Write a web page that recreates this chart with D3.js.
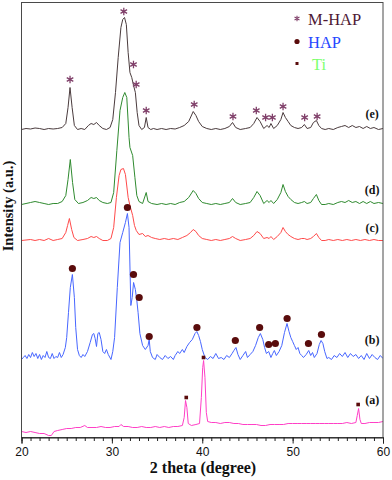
<!DOCTYPE html>
<html>
<head>
<meta charset="utf-8">
<script src="https://cdn.jsdelivr.net/npm/d3@7"></script>
<style>
  html, body { margin: 0; padding: 0; background: #fff; }
  svg { display: block; }
  .serif { font-family: "Liberation Serif", "Times New Roman", Times, serif; }
  .sans { font-family: "Liberation Sans", Arial, Helvetica, sans-serif; }
</style>
</head>
<body>
<div id="chart"></div>
<script>
// XRD patterns, [2theta, intensity (a.u., stacked)]
const traceE = [
  [20.0, 308], [20.5, 309], [21.0, 308.5], [21.5, 309.5], [22.0, 309], [22.5, 308], [23.0, 309], [23.5, 308.5],
  [24.0, 309], [24.5, 310], [24.9, 314], [25.15, 330], [25.37, 350], [25.6, 330], [25.85, 312], [26.2, 308],
  [26.6, 309], [27.0, 308], [27.4, 312], [27.7, 314], [28.0, 313], [28.3, 315], [28.6, 312], [29.0, 309],
  [29.4, 308], [29.8, 310], [30.1, 318], [30.4, 345], [30.7, 380], [31.0, 410], [31.2, 418], [31.4, 420],
  [31.6, 413], [31.8, 385], [32.0, 365], [32.2, 360], [32.4, 352], [32.6, 345], [32.8, 325], [33.0, 312],
  [33.3, 308], [33.6, 310], [33.8, 320], [34.0, 310], [34.3, 308], [34.6, 309], [35.0, 308], [35.5, 309],
  [36.0, 308], [36.5, 309], [37.0, 308.5], [37.5, 310], [38.0, 312], [38.5, 316], [39.0, 326], [39.3, 322],
  [39.6, 316], [40.0, 311], [40.5, 309], [41.0, 308], [41.5, 309], [42.0, 308], [42.5, 309], [43.0, 311],
  [43.35, 315], [43.7, 310], [44.2, 308], [44.8, 309], [45.3, 310], [45.7, 314], [46.06, 320], [46.4, 316],
  [46.8, 309], [47.17, 312], [47.4, 310], [47.6, 314], [47.9, 309], [48.3, 312], [48.7, 318], [48.94, 325],
  [49.2, 320], [49.5, 316], [49.8, 312], [50.2, 310], [50.6, 309], [51.0, 310], [51.3, 313], [51.6, 309],
  [52.0, 310], [52.3, 315], [52.63, 317], [52.9, 312], [53.2, 309], [53.6, 308], [54.0, 309], [54.5, 308],
  [55.0, 310], [55.4, 311], [55.8, 312], [56.2, 310], [56.6, 312], [57.0, 310], [57.4, 311], [57.8, 309],
  [58.2, 311], [58.6, 309], [59.0, 310], [59.5, 308], [60.0, 309]
];

const traceD = [
  [20.0, 233], [20.5, 234], [21.0, 235], [21.5, 236], [22.0, 235], [22.5, 234], [23.0, 233], [23.5, 234],
  [24.0, 234], [24.5, 236], [24.9, 242], [25.15, 258], [25.4, 278], [25.65, 255], [25.9, 238], [26.3, 234],
  [26.8, 235], [27.3, 237], [27.7, 240], [28.0, 239], [28.3, 240], [28.6, 237], [29.0, 235], [29.5, 234],
  [29.9, 235], [30.2, 245], [30.55, 287], [30.9, 327], [31.2, 340], [31.43, 345], [31.65, 340], [31.9, 300],
  [32.0, 290], [32.3, 282], [32.55, 260], [32.76, 242], [33.0, 236], [33.4, 234], [33.8, 245], [34.0, 236],
  [34.4, 234], [35.0, 233], [35.5, 234], [36.0, 233], [36.5, 234], [37.0, 233], [37.5, 235], [38.0, 236],
  [38.5, 240], [39.0, 247], [39.3, 244], [39.6, 239], [40.0, 235], [40.5, 234], [41.0, 233], [41.5, 234],
  [42.0, 233], [42.5, 234], [43.0, 235], [43.35, 239], [43.7, 235], [44.2, 233], [44.8, 234], [45.3, 235],
  [45.7, 240], [46.06, 246], [46.4, 242], [46.8, 234], [47.17, 237], [47.4, 235], [47.6, 237], [47.9, 234],
  [48.3, 238], [48.7, 245], [48.94, 253], [49.2, 246], [49.5, 241], [49.8, 238], [50.2, 235], [50.6, 234],
  [51.0, 235], [51.3, 236], [51.6, 234], [52.0, 235], [52.3, 239], [52.63, 243], [52.9, 237], [53.2, 233],
  [53.6, 233], [54.0, 234], [54.5, 233], [55.0, 235], [55.4, 236], [55.8, 235], [56.2, 237], [56.6, 235],
  [57.0, 236], [57.4, 234], [57.8, 236], [58.2, 234], [58.6, 236], [59.0, 234], [59.5, 235], [60.0, 234]
];

const traceC = [
  [20.0, 197], [20.5, 197.5], [21.0, 198], [21.5, 197], [22.0, 198], [22.5, 197], [23.0, 199], [23.5, 197],
  [24.0, 198], [24.5, 199], [24.9, 205], [25.1, 212], [25.3, 219], [25.55, 208], [25.8, 200], [26.2, 197],
  [26.8, 198], [27.3, 199], [27.7, 201], [28.0, 200], [28.3, 201], [28.6, 199], [29.0, 197], [29.5, 197],
  [29.9, 199], [30.2, 210], [30.5, 240], [30.8, 262], [31.0, 268], [31.28, 269], [31.5, 263], [31.8, 240],
  [32.0, 232], [32.3, 222], [32.5, 212], [32.7, 207], [33.0, 203], [33.4, 204], [33.7, 201], [34.0, 202],
  [34.4, 200], [34.8, 199], [35.3, 198], [35.8, 199], [36.3, 198], [36.8, 199], [37.3, 198], [37.8, 200],
  [38.3, 202], [38.7, 205], [39.0, 208], [39.3, 206], [39.6, 202], [40.0, 199], [40.5, 198], [41.0, 197],
  [41.5, 198], [42.0, 197], [42.5, 198], [43.0, 199], [43.35, 201], [43.7, 199], [44.2, 197], [44.8, 198],
  [45.3, 199], [45.7, 202], [46.06, 206], [46.4, 204], [46.8, 199], [47.17, 200], [47.4, 199], [47.6, 201],
  [47.9, 198], [48.3, 201], [48.7, 205], [48.94, 210], [49.2, 206], [49.5, 203], [49.8, 201], [50.2, 199],
  [50.6, 198], [51.0, 199], [51.3, 199], [51.6, 198], [52.0, 199], [52.3, 201], [52.63, 204], [52.9, 200],
  [53.2, 197], [53.6, 197], [54.0, 198], [54.5, 197], [55.0, 198], [55.5, 197], [56.0, 198], [56.5, 197],
  [57.0, 198], [57.5, 197], [58.0, 198], [58.5, 197], [59.0, 198], [59.5, 197], [60.0, 197]
];

const traceB = [
  [20.0, 78], [20.2, 80], [20.4, 82], [20.6, 79], [20.8, 83], [21.0, 80], [21.2, 85], [21.4, 81],
  [21.6, 84], [21.8, 79], [22.0, 83], [22.2, 78], [22.4, 82], [22.6, 80], [22.8, 86], [23.0, 80],
  [23.2, 79], [23.4, 84], [23.6, 79], [23.8, 81], [24.0, 80], [24.2, 85], [24.4, 80], [24.6, 83],
  [24.85, 90], [25.0, 100], [25.2, 125], [25.4, 150], [25.63, 163], [25.85, 140], [26.0, 110], [26.2, 88],
  [26.4, 82], [26.6, 80], [26.8, 83], [27.0, 81], [27.3, 86], [27.6, 95], [27.85, 103], [28.0, 104],
  [28.15, 99], [28.3, 91], [28.45, 104], [28.6, 105], [28.8, 98], [29.0, 86], [29.2, 84], [29.4, 88],
  [29.6, 83], [29.9, 78], [30.1, 86], [30.3, 100], [30.6, 150], [30.9, 195], [31.2, 205], [31.5, 215],
  [31.72, 224], [31.9, 210], [32.1, 132], [32.25, 140], [32.4, 155], [32.6, 148], [32.76, 137], [32.9, 125],
  [33.1, 104], [33.4, 92], [33.7, 88], [34.0, 92], [34.13, 98], [34.25, 86], [34.5, 80], [34.8, 78],
  [35.0, 83], [35.3, 80], [35.6, 78], [35.9, 82], [36.2, 79], [36.5, 81], [36.8, 78], [37.0, 82],
  [37.3, 86], [37.5, 84], [37.8, 88], [38.0, 85], [38.3, 91], [38.6, 95], [38.9, 98], [39.2, 104],
  [39.4, 106], [39.6, 102], [39.8, 96], [40.0, 88], [40.3, 80], [40.6, 78], [40.9, 81], [41.2, 79],
  [41.5, 84], [41.8, 79], [42.1, 80], [42.4, 78], [42.7, 82], [43.0, 80], [43.3, 84], [43.5, 87],
  [43.73, 90], [43.95, 83], [44.2, 78], [44.5, 82], [44.8, 86], [45.0, 80], [45.3, 83], [45.6, 86],
  [45.9, 92], [46.2, 100], [46.43, 104], [46.7, 98], [46.9, 90], [47.1, 84], [47.35, 86], [47.6, 80],
  [47.8, 84], [47.98, 87], [48.2, 82], [48.5, 86], [48.8, 92], [49.1, 105], [49.38, 114], [49.6, 106],
  [49.8, 100], [50.0, 96], [50.2, 92], [50.4, 88], [50.6, 90], [50.8, 84], [51.0, 82], [51.2, 80],
  [51.5, 83], [51.78, 87], [52.0, 82], [52.2, 85], [52.4, 80], [52.7, 84], [52.95, 93], [53.15, 97],
  [53.35, 94], [53.55, 86], [53.8, 79], [54.0, 80], [54.3, 78], [54.6, 82], [54.9, 80], [55.2, 84],
  [55.5, 81], [55.8, 85], [56.1, 80], [56.4, 84], [56.7, 81], [57.0, 83], [57.3, 79], [57.6, 82],
  [57.9, 78], [58.2, 84], [58.5, 79], [58.8, 83], [59.1, 80], [59.4, 78], [59.7, 82], [60.0, 79]
];

const traceA = [
  [20.0, 6], [20.5, 5], [21.0, 6], [21.5, 5], [22.0, 4], [22.5, 4], [23.0, 2], [23.3, 2],
  [23.6, 6], [24.0, 7], [24.5, 8], [25.0, 9], [25.5, 9], [26.0, 10], [26.5, 10], [27.0, 12],
  [27.3, 10], [27.8, 10], [28.3, 10], [28.8, 11], [29.3, 10], [29.8, 10], [30.3, 11], [30.8, 11],
  [31.0, 13], [31.3, 11], [31.8, 11], [32.3, 10], [32.8, 10], [33.3, 11], [33.8, 10], [34.3, 10],
  [34.8, 11], [35.3, 10], [35.8, 11], [36.3, 10], [36.8, 11], [37.3, 11], [37.8, 12], [38.0, 20],
  [38.15, 37], [38.3, 30], [38.45, 14], [38.8, 12], [39.3, 13], [39.7, 14], [39.9, 40], [40.05, 70],
  [40.15, 77], [40.3, 60], [40.45, 25], [40.6, 16], [41.0, 15], [41.5, 15], [42.0, 14], [42.5, 15],
  [43.0, 15], [43.5, 14], [44.0, 14], [44.5, 13], [45.0, 13], [45.5, 13], [46.0, 13], [46.5, 12],
  [47.0, 12], [47.5, 13], [48.0, 13], [48.5, 13], [49.0, 13], [49.5, 14], [50.0, 14], [50.5, 14],
  [51.0, 14], [51.5, 14], [52.0, 14], [52.5, 14], [53.0, 14], [53.5, 14], [54.0, 14], [54.5, 14],
  [55.0, 14], [55.5, 14], [56.0, 15], [56.5, 14], [57.0, 15], [57.15, 22], [57.3, 29], [57.45, 18],
  [57.6, 14], [58.0, 14], [58.5, 15], [59.0, 15], [59.5, 15], [60.0, 16]
];

const traceNames = ['(e)', '(d)', '(c)', '(b)', '(a)'];
const traceColors = ['#4a3b3d', '#2f8a2f', '#ff4a4a', '#4766ff', '#ff3fc6'];
// where each sample label sits: [2theta, intensity]
const traceLabelAt = [[58.8, 323.5], [58.8, 248], [58.8, 209.5], [58.8, 98], [58.8, 37.5]];

// phase markers, [2theta, intensity]
const mhapMarks = [
  [25.37, 358], [31.32, 426], [32.39, 373], [32.69, 353], [33.8, 327], [39.11, 333], [43.4, 321],
  [45.98, 327], [47.01, 320], [47.76, 320], [48.94, 331], [51.33, 320], [52.71, 321]
];
const hapMarks = [
  [25.63, 169], [31.72, 230], [32.39, 163], [33.02, 140], [34.13, 101], [39.41, 110], [43.66, 97],
  [46.35, 110], [47.35, 93], [48.09, 94], [49.39, 119], [51.75, 94], [53.19, 103]
];
const tiMarks = [[38.23, 40], [40.14, 80], [57.25, 33]];

const legendNames = ['M-HAP', 'HAP', 'Ti'];
const legendColors = ['#4f1a35', '#2747ff', '#7dff6e'];

const majorTicks = [20, 30, 40, 50, 60];

const width = 392, height = 480;
const margin = { top: 2.5, right: 9, bottom: 42.5, left: 21.5 };

const svg = d3.select('#chart').append('svg')
  .attr('width', width).attr('height', height);

const x = d3.scaleLinear().domain([20, 60]).range([margin.left, width - margin.right]);
const y = d3.scaleLinear().domain([0, 435]).range([height - margin.bottom, margin.top]);

svg.append('defs').append('clipPath').attr('id', 'plot-clip')
  .append('rect')
  .attr('x', x(20)).attr('y', y(435))
  .attr('width', x(60) - x(20)).attr('height', y(0) - y(435));

const line = d3.line().x((d) => x(d[0])).y((d) => y(d[1]));

const traces = [traceE, traceD, traceC, traceB, traceA];
const plot = svg.append('g').attr('clip-path', 'url(#plot-clip)');
traces.forEach((t, i) => {
  plot.append('path')
    .attr('d', line(t))
    .attr('fill', 'none')
    .attr('stroke', traceColors[i])
    .attr('stroke-width', 1)
    .attr('stroke-linejoin', 'round');
});

// frame
svg.append('rect')
  .attr('x', x(20)).attr('y', y(435))
  .attr('width', x(60) - x(20)).attr('height', y(0) - y(435))
  .attr('fill', 'none').attr('stroke', '#4a4a4a').attr('stroke-width', 1);

// bottom axis: minor ticks every degree, labels on the tens
svg.append('g').attr('transform', `translate(0,${y(0)})`)
  .call(d3.axisBottom(x).tickValues(d3.range(20, 61, 1)).tickSize(3.5).tickFormat(''))
  .call((g) => g.select('.domain').remove());
const majorG = svg.append('g').attr('transform', `translate(0,${y(0)})`)
  .call(d3.axisBottom(x).tickValues(majorTicks).tickSize(6).tickPadding(4).tickFormat(d3.format('d')))
  .call((g) => g.select('.domain').attr('stroke', '#222'));
svg.selectAll('.tick line').attr('stroke', '#222');
majorG.attr('font-family', null).attr('font-size', null);
majorG.selectAll('.tick text')
  .attr('class', 'sans')
  .style('font-size', '12px')
  .attr('fill', '#111');

// axis titles
svg.append('text')
  .attr('class', 'serif')
  .attr('x', 203).attr('y', 473)
  .attr('text-anchor', 'middle')
  .style('font-weight', 700).style('font-size', '16px').attr('fill', '#111')
  .text('2 theta (degree)');

svg.append('text')
  .attr('class', 'serif')
  .attr('transform', 'translate(13,206) rotate(-90)')
  .attr('text-anchor', 'middle')
  .style('font-weight', 700).style('font-size', '14.5px').attr('fill', '#111')
  .text('Intensity (a.u.)');

// trace labels
svg.append('g').selectAll('text')
  .data(traceNames)
  .join('text')
  .attr('class', 'serif')
  .attr('x', (d, i) => x(traceLabelAt[i][0]))
  .attr('y', (d, i) => y(traceLabelAt[i][1]))
  .attr('text-anchor', 'middle')
  .attr('dominant-baseline', 'central')
  .style('font-weight', 700).style('font-size', '12px').attr('fill', '#111')
  .text((d) => d);

// markers
const star = d3.symbol().type(d3.symbolAsterisk).size(40);
svg.append('g').selectAll('path')
  .data(mhapMarks)
  .join('path')
  .attr('transform', (d) => `translate(${x(d[0])},${y(d[1])})`)
  .attr('d', star)
  .attr('fill', 'none').attr('stroke', '#80406a').attr('stroke-width', 1.3);

svg.append('g').selectAll('circle')
  .data(hapMarks)
  .join('circle')
  .attr('cx', (d) => x(d[0])).attr('cy', (d) => y(d[1]))
  .attr('r', 3.6).attr('fill', '#5a0c0c');

svg.append('g').selectAll('rect')
  .data(tiMarks)
  .join('rect')
  .attr('x', (d) => x(d[0]) - 1.8).attr('y', (d) => y(d[1]) - 1.8)
  .attr('width', 3.6).attr('height', 3.6).attr('fill', '#5a0c0c');

// legend
const legend = svg.append('g').attr('transform', 'translate(297,0)');
const legendRows = [18.5, 41.5, 63.5];
legend.append('path')
  .attr('transform', `translate(0,${legendRows[0]})`)
  .attr('d', d3.symbol().type(d3.symbolAsterisk).size(22))
  .attr('fill', 'none').attr('stroke', '#80406a').attr('stroke-width', 1.1);
legend.append('circle').attr('cx', 0).attr('cy', legendRows[1]).attr('r', 2.6).attr('fill', '#5a0c0c');
legend.append('rect').attr('x', -1.5).attr('y', legendRows[2] - 1.5).attr('width', 3).attr('height', 3).attr('fill', '#5a0c0c');
legend.selectAll('text.leg')
  .data(legendNames)
  .join('text')
  .attr('class', 'serif leg')
  .attr('x', (d, i) => (i === 2 ? 15 : 11))
  .attr('y', (d, i) => legendRows[i] + 6)
  .style('font-size', '16.5px')
  .attr('fill', (d, i) => legendColors[i])
  .text((d) => d);
</script>
</body>
</html>
